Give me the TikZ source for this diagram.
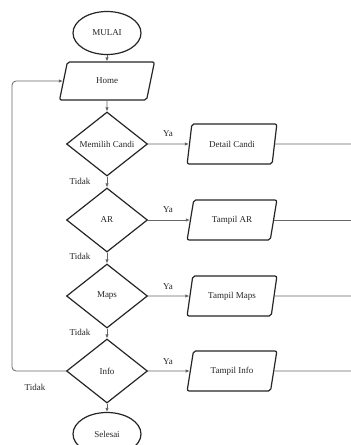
\documentclass[tikz,border=0pt]{standalone}
\usepackage{fontspec}
\setmainfont{Liberation Serif}
\usetikzlibrary{shapes.geometric,arrows.meta}
\begin{document}
\begin{tikzpicture}[x=1pt,y=-1pt,
 every node/.style={font=\fontsize{9}{10}\selectfont, text=black!85},
 term/.style={draw=black!85, line width=1.2pt, ellipse, minimum width=68pt, minimum height=43pt, inner sep=0pt},
 io/.style={draw=black!85, line width=1.2pt, trapezium, trapezium left angle=67, trapezium right angle=113, trapezium stretches=true, minimum width=90pt, minimum height=40pt, rounded corners=2pt, inner sep=0pt},
 dec/.style={draw=black!85, line width=1.2pt, diamond, minimum width=81pt, minimum height=64pt, inner sep=0pt},
 conn/.style={draw=black!60, line width=0.8pt},
 arr/.style={conn, -{Latex[length=4pt,width=3.5pt]}},
 lbl/.style={inner sep=0pt}
]
\useasboundingbox (0,0) rectangle (351,445);
\fill[white] (0,0) rectangle (351,445);
\clip (0,0) rectangle (351,445);

\node[term] (start) at (107,33) {MULAI};
\node[io, minimum width=95pt, minimum height=38pt, trapezium left angle=70, trapezium right angle=110] (home) at (107,81) {Home};
\node[dec] (m1) at (107,144) {Memilih Candi};
\node[dec] (m2) at (107,220) {AR};
\node[dec] (m3) at (107,296) {Maps};
\node[dec] (m4) at (107,371) {Info};
\node[term] (end) at (107,434) {Selesai};

\node[io] (d1) at (232,144) {Detail Candi};
\node[io] (d2) at (232,220) {Tampil AR};
\node[io] (d3) at (232,296) {Tampil Maps};
\node[io] (d4) at (232,371) {Tampil Info};

\coordinate (r1) at (360,144);
\coordinate (r2) at (360,220);
\coordinate (r3) at (360,296);
\coordinate (r4) at (360,371);
\coordinate (lp) at (12,371);

\draw[arr] (start) -- (home);
\draw[arr] (home) -- (m1);
\draw[arr] (m1) -- (m2);
\draw[arr] (m2) -- (m3);
\draw[arr] (m3) -- (m4);
\draw[arr] (m4) -- (end);

\draw[arr] (m1.east) -- (d1.west);
\draw[arr] (m2.east) -- (d2.west);
\draw[arr] (m3.east) -- (d3.west);
\draw[arr] (m4.east) -- (d4.west);

\draw[conn] (d1.east) -- (r1);
\draw[conn] (d2.east) -- (r2);
\draw[conn] (d3.east) -- (r3);
\draw[conn] (d4.east) -- (r4);

\draw[arr, rounded corners=4pt] (m4.west) -- (lp) |- (home.west);

\node[lbl] (y1) at (168,134) {Ya};
\node[lbl] (y2) at (168,210) {Ya};
\node[lbl] (y3) at (168,287) {Ya};
\node[lbl] (y4) at (168,362) {Ya};

\node[lbl] (t1) at (80,181) {Tidak};
\node[lbl] (t2) at (80,256) {Tidak};
\node[lbl] (t3) at (80,332) {Tidak};
\node[lbl] (t4) at (35,387) {Tidak};
\end{tikzpicture}
\end{document}
